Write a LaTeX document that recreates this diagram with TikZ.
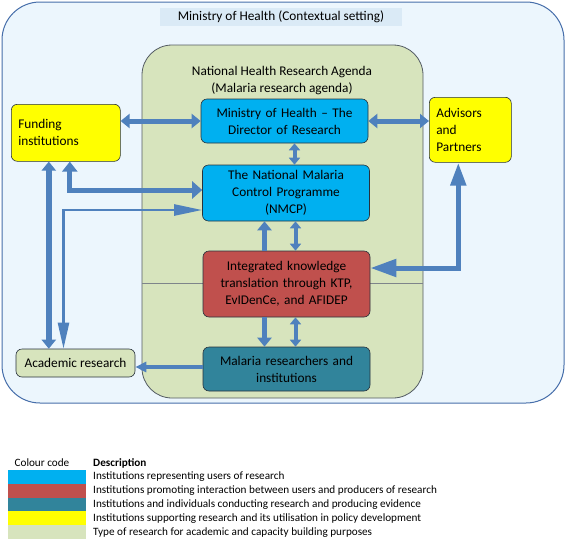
\documentclass[tikz,border=0pt]{standalone}
\usepackage{fontspec}
\setmainfont{Carlito}
\usetikzlibrary{arrows.meta}

\definecolor{contextfill}{RGB}{236,246,253}
\definecolor{contextedge}{RGB}{70,110,170}
\definecolor{bandfill}{RGB}{218,234,246}
\definecolor{agendafill}{RGB}{215,228,189}
\definecolor{userblue}{RGB}{0,176,240}
\definecolor{brokerred}{RGB}{192,80,77}
\definecolor{producerteal}{RGB}{49,132,155}
\definecolor{supportyellow}{RGB}{255,255,0}
\definecolor{academicgreen}{RGB}{215,228,189}
\definecolor{flowblue}{RGB}{79,129,189}
\definecolor{boxedge}{RGB}{40,50,60}

\begin{document}
\begin{tikzpicture}[x=1pt, y=-1pt]
    \tikzstyle{box}=[draw=boxedge, rounded corners=6pt, line width=0.6pt, inner sep=3pt, font=\fontsize{13.3}{17}\selectfont]
    \tikzstyle{user box}=[box, fill=userblue, text width=160pt, align=center, minimum width=167pt]
    \tikzstyle{side box}=[box, fill=supportyellow, align=left, anchor=north west, inner xsep=7pt, inner ysep=6pt]
    \tikzstyle{legend text}=[anchor=west, inner sep=0pt, font=\fontsize{11.2}{13}\selectfont]
    \tikzset{%
    duo/.style={draw=flowblue, line width=5pt,
      {Triangle[width=14pt,length=9pt]}-{Triangle[width=14pt,length=9pt]}},
    uno/.style={draw=flowblue, line width=5pt,
      -{Triangle[width=14pt,length=9pt]}},
    slim/.style={draw=flowblue, line width=2.5pt}
    }

    \useasboundingbox (0,0) rectangle (566,539);

    % contextual setting and research agenda
    \draw[contextedge, fill=contextfill, line width=1pt, rounded corners=38pt] (2,2) rectangle (564,403);
    \fill[bandfill] (160,8) rectangle (402,26);
    \node[font=\fontsize{13.3}{15}\selectfont] (context) at (281,17) {Ministry of Health (Contextual setting)};
    \draw[boxedge!80, fill=agendafill, line width=0.8pt, rounded corners=30pt] (142,45) rectangle (423,398);
    \draw[boxedge!60, line width=0.6pt] (142,283) -- (423,283);
    \node[align=center, font=\fontsize{13.3}{17}\selectfont] (agenda) at (282,81)
    {National Health Research Agenda\\(Malaria research agenda)};

    % institutions
    \node[user box, minimum height=44pt] (moh) at (284.5,121) {Ministry of Health -- The\\Director of Research};
    \node[user box, minimum height=56pt] (nmcp) at (286,193) {The National Malaria\\Control Programme\\(NMCP)};
    \node[box, fill=brokerred, text width=160pt, align=center, minimum width=167pt, minimum height=66pt] (ikt) at (286.5,284)
    {Integrated knowledge\\translation through KTP,\\EvIDenCe, and AFIDEP};
    \node[box, fill=producerteal, text width=160pt, align=center, minimum width=167pt, minimum height=44pt] (res) at (286.5,369)
    {Malaria researchers and\\institutions};
    \node[side box, text width=95pt, minimum width=109pt, minimum height=57pt, inner ysep=4pt] (fund) at (11,104) {Funding\\institutions};
    \node[side box, text width=68pt, minimum width=82pt, minimum height=65pt] (adv) at (429,97) {Advisors\\and\\Partners};
    \node[box, fill=academicgreen, minimum width=119pt, minimum height=28pt] (acad) at (75.5,363) {Academic research};

    % links between the institutions
    \draw[duo] (moh.west -| fund.east) -- (moh.west);
    \draw[duo] (moh.east) -- (moh.east -| adv.west);
    \draw[duo, line width=4pt, {Triangle[width=11pt,length=7pt]}-{Triangle[width=11pt,length=7pt]}]
    ([xshift=10pt]moh.south) -- ([xshift=10pt]moh.south |- nmcp.north);
    \draw[duo, line width=6pt] ([xshift=-17pt]fund.south) -- ([xshift=-17pt]fund.south |- acad.north);
    \draw[duo, {Triangle[width=15pt,length=10pt]}-{Triangle[width=17pt,length=10pt]}]
    ([xshift=4pt]fund.south) |- ([yshift=3pt]nmcp.west);
    \draw[slim, {Triangle[width=11pt,length=26pt]}-{Triangle[width=11pt,length=28pt]}]
    ([xshift=-12pt]acad.north) |- ([yshift=-17pt]nmcp.west);

    % knowledge translation up and down
    \draw[uno] ([xshift=-22pt]ikt.north) -- ([xshift=-22pt]ikt.north |- nmcp.south);
    \draw[duo, line width=4pt, {Triangle[width=11pt,length=7pt]}-{Triangle[width=11pt,length=7pt]}]
    ([xshift=9pt]ikt.north) -- ([xshift=9pt]ikt.north |- nmcp.south);
    \draw[uno] ([xshift=-22pt]ikt.south) -- ([xshift=-22pt]ikt.south |- res.north);
    \draw[duo, line width=4pt, {Triangle[width=11pt,length=7pt]}-{Triangle[width=11pt,length=7pt]}]
    ([xshift=9pt]ikt.south) -- ([xshift=9pt]ikt.south |- res.north);
    \draw[duo, {Triangle[width=17pt,length=26pt]}-{Triangle[width=15pt,length=23pt]}]
    ([yshift=16pt]ikt.east) -| ([xshift=-12pt]adv.south);

    % evidence to academic research
    \coordinate (acadin) at ([yshift=-4pt]acad.east);
    \draw[slim, line width=3.5pt, -{Triangle[width=10pt,length=11pt]}] (res.west |- acadin) -- (acadin);

    % colour code
    \node[anchor=center, inner sep=0pt, font=\fontsize{11.2}{13}\selectfont] (code) at (42,463) {Colour code};
    \node[legend text, font=\fontsize{11.2}{13}\bfseries] (desc) at (93,463) {Description};
    \foreach \c/\t [count=\i] in {userblue/Institutions representing users of research,
      brokerred/Institutions promoting interaction between users and producers of research,
      producerteal/Institutions and individuals conducting research and producing evidence,
      supportyellow/Institutions supporting research and its utilisation in policy development,
      academicgreen/Type of research for academic and capacity building purposes}
    {
    \fill[\c] (8,{470+13.8*(\i-1)}) rectangle ++(78,13.8);
    \node[legend text] (desc-\i) at (93,{477+13.8*(\i-1)}) {\t};
    }

\end{tikzpicture}
\end{document}
